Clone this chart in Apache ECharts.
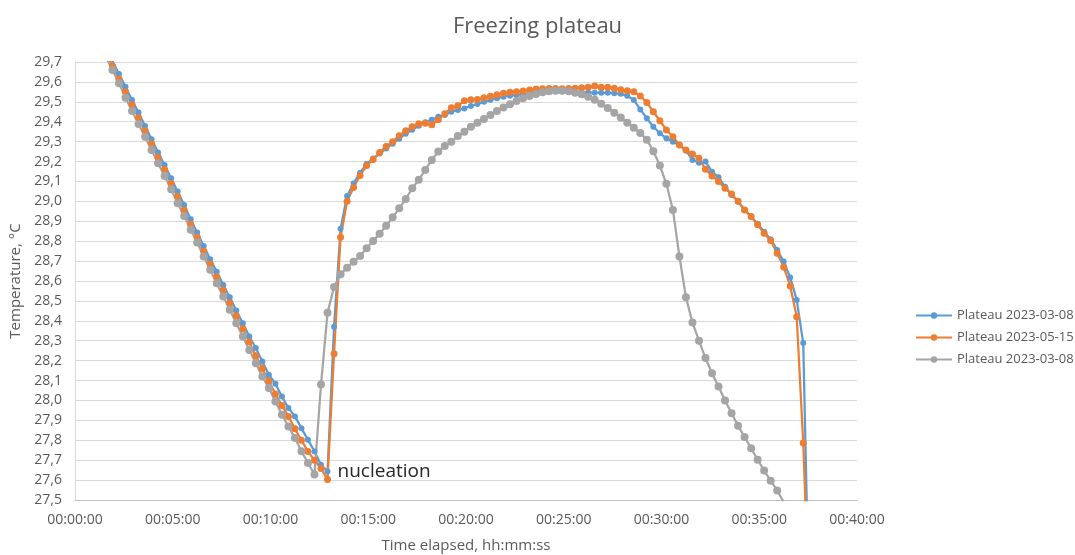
<!DOCTYPE html>
<html>
<head>
<meta charset="utf-8">
<script src="https://cdn.jsdelivr.net/npm/echarts@6/dist/echarts.min.js"></script>
<style>
  html, body { margin: 0; padding: 0; background: #ffffff; }
  #chart { width: 1075px; height: 555px; }
</style>
</head>
<body>
<div id="chart"></div>
<script>
// Sample times (seconds elapsed), shared by all three runs
const timeSeconds = [
  75, 95, 115, 135, 155, 175, 195, 215, 235, 255,
  275, 295, 315, 335, 355, 375, 395, 415, 435, 455,
  475, 495, 515, 535, 555, 575, 595, 615, 635, 655,
  675, 695, 715, 735, 755, 775, 795, 815, 835, 855,
  875, 895, 915, 935, 955, 975, 995, 1015, 1035, 1055,
  1075, 1095, 1115, 1135, 1155, 1175, 1195, 1215, 1235, 1255,
  1275, 1295, 1315, 1335, 1355, 1375, 1395, 1415, 1435, 1455,
  1475, 1495, 1515, 1535, 1555, 1575, 1595, 1615, 1635, 1655,
  1675, 1695, 1715, 1735, 1755, 1775, 1795, 1815, 1835, 1855,
  1875, 1895, 1915, 1935, 1955, 1975, 1995, 2015, 2035, 2055,
  2075, 2095, 2115, 2135, 2155, 2175, 2195, 2215, 2235, 2255
];

const seriesNames = ['Plateau 2023-03-08', 'Plateau 2023-05-15', 'Plateau 2023-03-08'];

const blueTemps = [
  29.83, 29.77, 29.705, 29.64, 29.576, 29.509, 29.446, 29.379, 29.312, 29.245,
  29.183, 29.116, 29.049, 28.982, 28.91, 28.843, 28.776, 28.709, 28.647, 28.58,
  28.518, 28.452, 28.388, 28.321, 28.263, 28.196, 28.129, 28.084, 28.02, 27.962,
  27.92, 27.861, 27.802, 27.744, 27.677, 27.643, 28.37, 28.862, 29.027, 29.09,
  29.144, 29.188, 29.215, 29.24, 29.265, 29.29, 29.315, 29.34, 29.36, 29.38,
  29.398, 29.41, 29.425, 29.434, 29.45, 29.459, 29.467, 29.479, 29.489, 29.5,
  29.51, 29.518, 29.526, 29.531, 29.534, 29.538, 29.543, 29.546, 29.549, 29.551,
  29.553, 29.553, 29.552, 29.55, 29.548, 29.546, 29.546, 29.545, 29.545, 29.543,
  29.54, 29.53, 29.509, 29.462, 29.417, 29.375, 29.342, 29.317, 29.3, 29.283,
  29.255, 29.208, 29.194, 29.2, 29.149, 29.121, 29.074, 29.032, 28.999, 28.957,
  28.924, 28.887, 28.848, 28.81, 28.756, 28.698, 28.618, 28.505, 28.288, 26.8
];

const orangeTemps = [
  29.81, 29.745, 29.68, 29.615, 29.55, 29.485, 29.42, 29.355, 29.29, 29.222,
  29.16, 29.09, 29.025, 28.955, 28.885, 28.82, 28.75, 28.685, 28.62, 28.555,
  28.49, 28.425, 28.36, 28.293, 28.225, 28.16, 28.097, 28.033, 27.975, 27.92,
  27.858, 27.8, 27.744, 27.7, 27.658, 27.603, 28.235, 28.82, 29.0, 29.07,
  29.13, 29.18, 29.21, 29.245, 29.275, 29.3, 29.33, 29.355, 29.375, 29.39,
  29.392, 29.385, 29.41, 29.44, 29.47, 29.48, 29.505, 29.51, 29.512, 29.52,
  29.528, 29.535, 29.543, 29.548, 29.551, 29.554, 29.559, 29.564, 29.566, 29.567,
  29.567, 29.566, 29.567, 29.568, 29.571, 29.573, 29.58, 29.573, 29.573, 29.568,
  29.56, 29.556, 29.551, 29.529, 29.497, 29.45, 29.405, 29.359, 29.325, 29.283,
  29.258, 29.238, 29.217, 29.161, 29.128, 29.1, 29.066, 29.037, 29.0, 28.957,
  28.924, 28.882, 28.84, 28.803, 28.74, 28.67, 28.575, 28.421, 27.786, 26.9
];

const grayTemps = [
  29.79, 29.725, 29.66, 29.593, 29.521, 29.454, 29.389, 29.325, 29.258, 29.191,
  29.128, 29.061, 28.99, 28.927, 28.857, 28.793, 28.723, 28.656, 28.589, 28.522,
  28.455, 28.388, 28.321, 28.254, 28.187, 28.12, 28.062, 27.995, 27.928, 27.869,
  27.811, 27.745, 27.686, 27.628, 28.08, 28.44, 28.57, 28.634, 28.667, 28.697,
  28.726, 28.765, 28.801, 28.837, 28.877, 28.92, 28.965, 29.012, 29.066, 29.108,
  29.158, 29.208, 29.25, 29.278, 29.3, 29.328, 29.35, 29.375, 29.395, 29.414,
  29.434, 29.454, 29.471, 29.488, 29.504, 29.518, 29.529, 29.539, 29.548, 29.553,
  29.556, 29.556, 29.553, 29.546, 29.538, 29.526, 29.51, 29.49, 29.469, 29.445,
  29.421, 29.395, 29.37, 29.343, 29.31, 29.252, 29.18, 29.088, 28.957, 28.723,
  28.519, 28.391, 28.3, 28.213, 28.137, 28.07, 28.0, 27.936, 27.873, 27.816,
  27.76, 27.702, 27.648, 27.597, 27.548, 27.49
];

// annotation attached to the nucleation point of the first run
const annotationText = 'nucleation';
const annotationTime = 775;

const FONT = '"Open Sans", "Liberation Sans", sans-serif';
const TEXT_COLOR = '#595959';

function pad2(n) { return (n < 10 ? '0' : '') + n; }
function hms(v) {
  const h = Math.floor(v / 3600);
  const m = Math.floor((v % 3600) / 60);
  const s = Math.round(v % 60);
  return pad2(h) + ':' + pad2(m) + ':' + pad2(s);
}

function buildData(temps, withLabel) {
  return temps.map(function (t, i) {
    const item = { value: [timeSeconds[i], t] };
    if (withLabel && timeSeconds[i] === annotationTime) {
      item.label = {
        show: true,
        formatter: annotationText,
        position: 'right',
        distance: 7,
        fontSize: 19,
        fontFamily: FONT,
        color: '#262626'
      };
    }
    return item;
  });
}

function lineSeries(name, color, temps, size, withLabel) {
  return {
    name: name,
    type: 'line',
    data: buildData(temps, withLabel),
    symbol: 'circle',
    symbolSize: size,
    showSymbol: true,
    showAllSymbol: true,
    lineStyle: { color: color, width: 2.25 },
    itemStyle: { color: color },
    emphasis: { disabled: true },
    clip: true,
    animation: false
  };
}

const chart = echarts.init(document.getElementById('chart'), null, { renderer: 'canvas' });
chart.setOption({
  animation: false,
  backgroundColor: '#ffffff',
  title: {
    text: 'Freezing plateau',
    left: 'center',
    top: 11,
    textStyle: { fontFamily: FONT, fontSize: 22, fontWeight: 'normal', color: TEXT_COLOR }
  },
  grid: { left: 75, right: 218, top: 62, bottom: 55, containLabel: false, outerBoundsMode: 'none' },
  legend: {
    orient: 'vertical',
    left: 910,
    top: 304,
    itemWidth: 36,
    itemHeight: 8,
    itemGap: 9,
    textStyle: { fontFamily: FONT, fontSize: 13, color: TEXT_COLOR },
    data: [seriesNames[0], seriesNames[1], seriesNames[2] + '\u200b']
  },
  xAxis: {
    type: 'value',
    min: 0,
    max: 2400,
    interval: 300,
    name: 'Time elapsed, hh:mm:ss',
    nameLocation: 'middle',
    nameGap: 38,
    nameTextStyle: { fontFamily: FONT, fontSize: 15, color: TEXT_COLOR },
    axisLine: { show: true, lineStyle: { color: '#bfbfbf', width: 1 } },
    axisTick: { show: false },
    splitLine: { show: false },
    axisLabel: { formatter: hms, fontFamily: FONT, fontSize: 14, color: TEXT_COLOR, margin: 13 }
  },
  yAxis: {
    type: 'value',
    min: 27.5,
    max: 29.7,
    interval: 0.1,
    name: 'Temperature, °C',
    nameLocation: 'middle',
    nameRotate: 90,
    nameGap: 50,
    nameTextStyle: { fontFamily: FONT, fontSize: 15, color: TEXT_COLOR },
    axisLine: { show: true, lineStyle: { color: '#d9d9d9', width: 1 } },
    axisTick: { show: false },
    splitLine: { show: true, lineStyle: { color: '#d9d9d9', width: 1 } },
    axisLabel: {
      formatter: function (v) { return v.toFixed(1).replace('.', ','); },
      fontFamily: FONT, fontSize: 14, color: TEXT_COLOR, margin: 13
    }
  },
  series: [
    lineSeries(seriesNames[0], '#5B9BD5', blueTemps, 6, true),
    lineSeries(seriesNames[1], '#ED7D31', orangeTemps, 7, false),
    lineSeries(seriesNames[2] + '\u200b', '#A5A5A5', grayTemps, 8, false)
  ]
});
</script>
</body>
</html>
